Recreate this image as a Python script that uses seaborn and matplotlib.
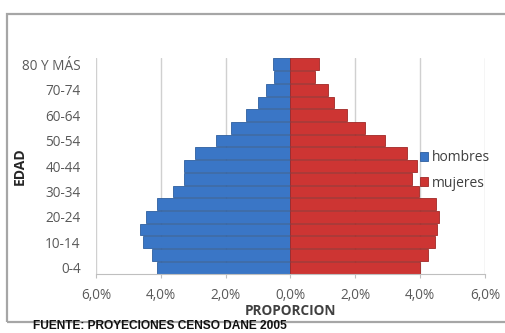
import numpy as np
import pandas as pd
import matplotlib
matplotlib.use("Agg")
import matplotlib.pyplot as plt
import seaborn as sns
from matplotlib.patches import Rectangle

# grupos de edad (de abajo hacia arriba)
edades = ["0-4", "5-9", "10-14", "15-19", "20-24", "25-29", "30-34", "35-39",
          "40-44", "45-49", "50-54", "55-59", "60-64", "65-69", "70-74",
          "75-79", "80 Y MÁS"]
hombres = [4.12, 4.28, 4.56, 4.64, 4.45, 4.12, 3.63, 3.30, 3.30, 2.96,
           2.30, 1.82, 1.36, 1.01, 0.76, 0.52, 0.54]
mujeres = [3.99, 4.23, 4.46, 4.52, 4.59, 4.49, 3.97, 3.76, 3.89, 3.60,
           2.93, 2.31, 1.74, 1.35, 1.16, 0.76, 0.88]
xticks = [-6, -4, -2, 0, 2, 4, 6]

df = pd.DataFrame({"edad": edades,
                   "hombres": [-v for v in hombres],
                   "mujeres": mujeres})
orden = edades[::-1]

sns.set_style("white")
plt.rcParams["font.family"] = ["Open Sans", "DejaVu Sans"]

fig = plt.figure(figsize=(5.06, 3.33), dpi=100)
ax = fig.add_axes([0.1897, 0.1772, 0.7688, 0.6486])

sns.barplot(data=df, x="hombres", y="edad", order=orden, orient="h",
            color="#3A76C6", saturation=1, width=0.93, ax=ax,
            edgecolor="#2E5E9E", linewidth=0.6, label="hombres")
sns.barplot(data=df, x="mujeres", y="edad", order=orden, orient="h",
            color="#CD3533", saturation=1, width=0.93, ax=ax,
            edgecolor="#A02826", linewidth=0.6, label="mujeres")

ax.set_xlim(-6, 6)
ax.set_ylim(16.5, -0.5)
ax.set_xticks(xticks)
ax.set_xticklabels([f"{abs(t)},0%" for t in xticks], color="#595959", fontsize=9.8)
ypos = list(range(0, 17, 2))
ax.set_yticks(ypos)
ax.set_yticklabels([orden[i] for i in ypos], color="#595959", fontsize=9.8)
ax.tick_params(axis="y", length=0, pad=11)
ax.tick_params(axis="x", length=3, color="#BFBFBF", pad=7, direction="out", bottom=True)

ax.grid(axis="x", color="#D0D0D0", linewidth=1)
ax.set_axisbelow(True)
for s in ["top", "right", "left"]:
    ax.spines[s].set_visible(False)
ax.spines["bottom"].set_color("#BFBFBF")

ax.set_xlabel("PROPORCION", fontsize=9.8, fontweight="bold", color="#404040", labelpad=1)
ax.set_ylabel("")
fig.text(0.04, 0.50, "EDAD", rotation=90, fontsize=10, fontweight="bold",
         color="#262626", ha="center", va="center")

leg = ax.legend(loc="center left", bbox_to_anchor=(0.8, 0.48), frameon=False,
                fontsize=10, handlelength=0.6, handleheight=0.6,
                handletextpad=0.3, labelspacing=0.75, labelcolor="#404040")

fig.text(0.065, 0.004, "FUENTE: PROYECIONES CENSO DANE 2005", fontsize=8.6,
         fontweight="bold", family="Liberation Sans", color="#111111",
         ha="left", va="bottom")

fig.patches.append(Rectangle((0.0138, 0.033), 1.1, 0.925, transform=fig.transFigure,
                             fill=False, edgecolor="#A6A6A6", linewidth=1.6))

fig.savefig("out.png", dpi=100)
